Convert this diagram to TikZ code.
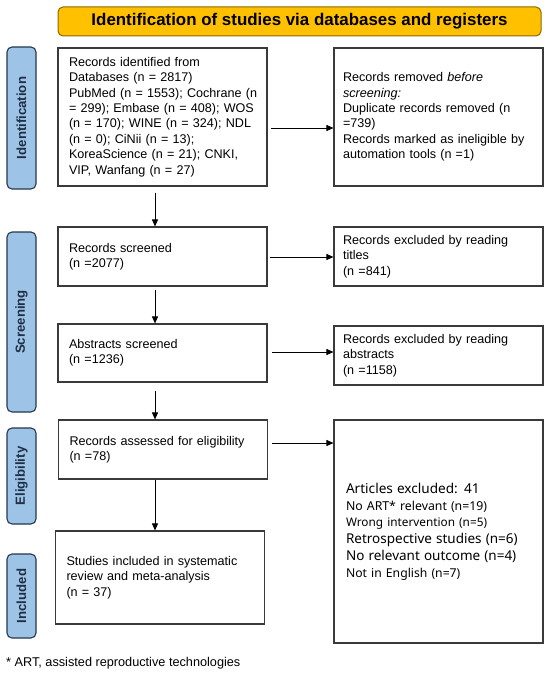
\documentclass[tikz,border=0pt]{standalone}
\usepackage{fontspec}
\setmainfont{Liberation Sans}
\newfontfamily\segoe{Noto Sans}
\usetikzlibrary{arrows.meta}
\definecolor{bannerfill}{HTML}{FFC000}
\definecolor{bannerline}{HTML}{8A6A00}
\definecolor{labfill}{HTML}{9DC3E6}
\definecolor{labline}{HTML}{26384C}
\definecolor{labtext}{HTML}{1F2F45}
\definecolor{boxc}{HTML}{3A3A3A}
\begin{document}
\begin{tikzpicture}[x=1pt,y=-1pt,
  box/.style={draw=boxc, line width=1.1pt, fill=white, align=left, inner ysep=0pt,
    font=\fontsize{12.6}{15.4}\selectfont},
  boxL/.style={box, text width=187pt, inner xsep=11pt},
  boxR/.style={box, text width=191pt, inner xsep=9pt},
  boxH/.style={box, text width=185pt, inner xsep=12pt,
    font=\segoe\fontsize{12.3}{16.8}\selectfont},
  banner/.style={draw=bannerline, line width=1pt, fill=bannerfill, rounded corners=5pt,
    minimum width=483pt, minimum height=29pt, inner sep=0pt,
    font=\bfseries\fontsize{16.9}{18}\selectfont},
  lab/.style={draw=labline, line width=1.1pt, fill=labfill, rounded corners=5pt,
    rotate=90, minimum height=29pt, inner sep=0pt, text=labtext,
    font=\bfseries\fontsize{13.2}{14}\selectfont},
  arr/.style={-{Triangle[length=7pt,width=6pt]}, line width=0.8pt, black},
  note/.style={anchor=west, inner sep=0pt, font=\fontsize{12.7}{15}\selectfont}
]
\useasboundingbox (0,0) rectangle (550,679);
\fill[white] (0,0) rectangle (550,679);

\node[banner] (title) at (299.5,21.5) {Identification of studies via databases and registers};

\node[lab, minimum width=142pt] (l1) at (21.5,118) {Identification};
\node[lab, minimum width=180pt] (l2) at (21.5,322) {Screening};
\node[lab, minimum width=96pt] (l3) at (21.5,476) {Eligibility};
\node[lab, minimum width=84pt] (l4) at (21.5,596) {Included};

\node[boxL, minimum height=138pt] (A) at (162.5,117) {Records identified from\\
Databases (n = 2817)\\
\mbox{PubMed (n = 1553); Cochrane (n}\\
\mbox{= 299); Embase (n = 408); WOS}\\
\mbox{(n = 170); WINE (n = 324); NDL}\\
(n = 0); CiNii (n = 13);\\
\mbox{KoreaScience (n = 21); CNKI,}\\
VIP, Wanfang (n = 27)};

\node[boxR, minimum height=138pt] (B) at (438.5,117) {Records removed \textit{before}\\
\textit{screening:}\\
\mbox{Duplicate records removed (n}\\
=739)\\
\mbox{Records marked as ineligible by}\\
automation tools (n =1)};

\node[boxL, minimum height=59pt] (C) at (162.5,256.5) {Records screened\\(n =2077)};
\node[boxR, minimum height=59pt] (D) at (438.5,256.5) {Records excluded by reading\\titles\\(n =841)};

\node[boxL, minimum height=58pt] (E) at (162.5,353) {Abstracts screened\\(n =1236)};
\node[boxR, minimum height=59pt] (F) at (438.5,355.5) {Records excluded by reading\\abstracts\\(n =1158)};

\node[boxL, minimum height=59pt] (G) at (163,449.5) {\mbox{Records assessed for eligibility}\\(n =78)};
\node[boxH, minimum height=223pt] (H) at (438.5,531.5) {{\fontsize{13.6}{16.8}\selectfont Articles excluded: 41}\\
{\fontsize{12.3}{16.8}\selectfont No ART* relevant (n=19)}\\
{\fontsize{11.8}{16.8}\selectfont Wrong intervention (n=5)}\\
{\fontsize{13.5}{16.8}\selectfont Retrospective studies (n=6)}\\
{\fontsize{13.5}{16.8}\selectfont No relevant outcome (n=4)}\\
{\fontsize{12.2}{16.8}\selectfont Not in English (n=7)}};

\node[boxL, minimum height=93pt] (I) at (160,577.5) {\mbox{Studies included in systematic}\\
review and meta-analysis\\
(n = 37)};

\node[note] (fn) at (6,663) {* ART, assisted reproductive technologies};

\coordinate (ab) at ([xshift=3pt,yshift=-11pt]A.east);
\coordinate (cd) at ([xshift=2.5pt,yshift=-0.5pt]C.east);
\coordinate (ef) at ([xshift=4pt,yshift=1pt]E.east);
\coordinate (gh) at ([xshift=4pt,yshift=6.5pt]G.east);
\draw[arr] (ab) -- (B.west |- ab);
\draw[arr] (cd) -- (D.west |- cd);
\draw[arr] (ef) -- (F.west |- ef);
\draw[arr] (gh) -- (H.west |- gh);

\draw[arr] ([xshift=-7.5pt,yshift=-6pt]A.south) -- ([xshift=-7.5pt]C.north);
\draw[arr] ([xshift=-7.5pt,yshift=-3pt]C.south) -- ([xshift=-7.5pt]E.north);
\draw[arr] ([xshift=-7.5pt,yshift=-8pt]E.south) -- ([xshift=-8pt]G.north);
\draw[arr] ([xshift=-8pt]G.south) -- ([xshift=-5pt]I.north);
\end{tikzpicture}
\end{document}
